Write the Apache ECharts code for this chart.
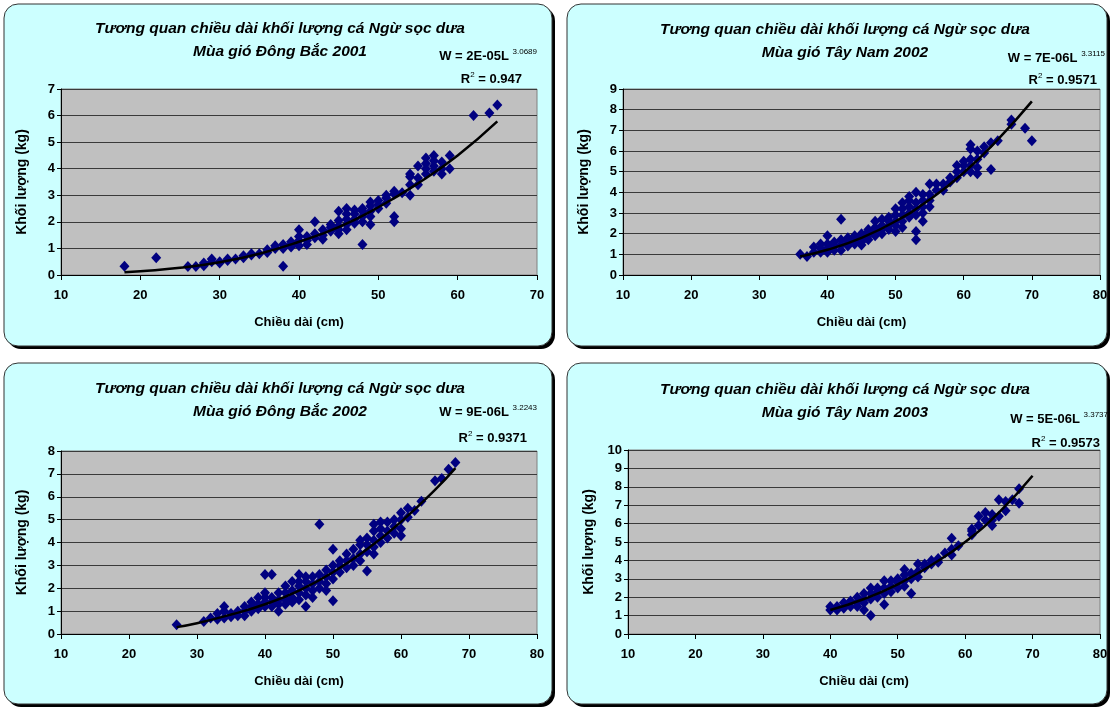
<!DOCTYPE html>
<html>
<head>
<meta charset="utf-8">
<script src="https://cdn.jsdelivr.net/npm/echarts@6/dist/echarts.min.js"></script>
<style>
html,body{margin:0;padding:0;background:#fff;}
#c{width:1111px;height:709px;}
</style>
</head>
<body>
<div id="c"></div>
<script>
// ---------- DATA ----------
const titleLine1 = 'Tương quan chiều dài khối lượng cá Ngừ sọc dưa';
const subTitles = ['Mùa gió Đông Bắc 2001', 'Mùa gió Tây Nam 2002', 'Mùa gió Đông Bắc 2002', 'Mùa gió Tây Nam 2003'];
const eqMain = ['W = 2E-05L', 'W = 7E-06L', 'W = 9E-06L', 'W = 5E-06L'];
const eqExp = ['3.0689', '3.3115', '3.2243', '3.3737'];
const r2Vals = ['0.947', '0.9571', '0.9371', '0.9573'];
const xName = 'Chiều dài (cm)';
const yName = 'Khối lượng (kg)';
const xMin = [10, 10, 10, 10];
const xMax = [70, 80, 80, 80];
const yMax = [7, 9, 8, 10];

const pts2001DB = [[18,0.33],[22,0.65],[26,0.32],[27,0.32],[28,0.35],[28,0.45],[29,0.5],[29,0.6],[30,0.5],[30,0.45],[31,0.55],[31,0.6],[32,0.6],[33,0.65],[33,0.72],[34,0.75],[34,0.8],[35,0.8],[36,0.85],[36,0.95],[37,1.0],[37,1.1],[38,1.0],[38,1.15],[38,0.33],[39,1.05],[39,1.15],[39,1.25],[40,1.1],[40,1.3],[40,1.45],[40,1.7],[41,1.15],[41,1.3],[41,1.45],[42,1.4],[42,1.55],[42,2.0],[43,1.35],[43,1.5],[43,1.7],[44,1.65],[44,1.8],[44,1.9],[45,1.55],[45,1.7],[45,1.85],[45,2.05],[45,2.4],[46,1.7],[46,1.9],[46,2.1],[46,2.3],[46,2.5],[47,1.95],[47,2.1],[47,2.3],[47,2.45],[48,2.0],[48,2.2],[48,2.4],[48,2.5],[48,1.15],[49,1.9],[49,2.2],[49,2.4],[49,2.6],[49,2.75],[50,2.5],[50,2.65],[50,2.8],[51,2.7],[51,2.9],[51,3.0],[52,2.0],[52,2.2],[52,3.05],[52,3.15],[53,3.1],[54,3.0],[54,3.4],[54,3.7],[54,3.8],[55,3.4],[55,3.65],[55,4.1],[56,3.8],[56,4.0],[56,4.2],[56,4.4],[57,3.9],[57,4.1],[57,4.3],[57,4.5],[58,3.8],[58,4.0],[58,4.25],[59,4.0],[59,4.5],[62,6.0],[64,6.1],[65,6.4]];
const curve2001DB = [[18,0.1],[20,0.14],[25,0.27],[30,0.48],[35,0.8],[40,1.25],[45,1.8],[50,2.55],[55,3.45],[60,4.5],[65,5.78]];

const pts2002TN = [[36,1.0],[37,0.9],[38,1.1],[38,1.35],[39,1.1],[39,1.3],[39,1.5],[40,1.1],[40,1.3],[40,1.5],[40,1.9],[41,1.2],[41,1.4],[41,1.6],[42,1.2],[42,1.45],[42,1.7],[42,2.7],[43,1.4],[43,1.6],[43,1.8],[44,1.5],[44,1.7],[44,1.9],[45,1.45],[45,1.6],[45,1.8],[45,2.0],[46,1.7],[46,1.9],[46,2.1],[46,2.2],[47,1.9],[47,2.1],[47,2.3],[47,2.6],[48,2.0],[48,2.2],[48,2.4],[48,2.7],[49,2.2],[49,2.4],[49,2.6],[49,2.8],[50,2.1],[50,2.4],[50,2.6],[50,2.9],[50,3.2],[51,2.3],[51,2.6],[51,2.9],[51,3.2],[51,3.5],[52,2.8],[52,3.0],[52,3.3],[52,3.6],[52,3.8],[53,1.7],[53,2.1],[53,2.9],[53,3.2],[53,3.5],[53,4.0],[54,2.6],[54,3.0],[54,3.3],[54,3.6],[54,3.9],[55,3.3],[55,3.6],[55,3.9],[55,4.4],[56,4.1],[56,4.4],[57,4.1],[57,4.4],[58,4.5],[58,4.7],[59,4.7],[59,5.0],[59,5.3],[60,5.0],[60,5.3],[60,5.5],[61,5.0],[61,5.3],[61,5.6],[61,6.1],[61,6.3],[62,4.9],[62,5.2],[62,5.6],[62,6.0],[63,5.9],[63,6.2],[64,5.1],[64,6.4],[65,6.5],[67,7.3],[67,7.5],[69,7.1],[70,6.5]];
const curve2002TN = [[36,0.9],[40,1.22],[45,1.8],[50,2.6],[55,3.65],[60,4.95],[65,6.55],[70,8.4]];

const pts2002DB = [[27,0.4],[31,0.55],[32,0.7],[33,0.65],[33,0.9],[34,0.7],[34,1.0],[34,1.2],[35,0.75],[35,0.9],[36,0.8],[36,1.0],[37,0.8],[37,1.0],[37,1.2],[38,1.0],[38,1.2],[38,1.4],[39,1.1],[39,1.3],[39,1.6],[40,1.2],[40,1.4],[40,1.6],[40,1.8],[40,2.6],[41,1.2],[41,1.4],[41,1.6],[41,2.6],[42,1.0],[42,1.3],[42,1.5],[42,1.8],[43,1.3],[43,1.5],[43,1.8],[43,2.1],[44,1.4],[44,1.6],[44,1.9],[44,2.3],[45,1.5],[45,1.8],[45,2.1],[45,2.3],[45,2.6],[46,1.2],[46,1.7],[46,2.0],[46,2.3],[46,2.5],[47,1.6],[47,1.9],[47,2.2],[47,2.5],[48,2.0],[48,2.3],[48,2.6],[48,4.8],[49,1.9],[49,2.2],[49,2.5],[49,2.8],[50,1.45],[50,2.4],[50,2.7],[50,3.0],[50,3.7],[51,2.7],[51,3.0],[51,3.2],[52,2.9],[52,3.2],[52,3.5],[53,3.0],[53,3.3],[53,3.7],[54,3.2],[54,3.5],[54,3.9],[54,4.1],[55,2.75],[55,3.6],[55,3.9],[55,4.2],[56,3.5],[56,3.8],[56,4.1],[56,4.5],[56,4.8],[57,4.0],[57,4.3],[57,4.6],[57,4.9],[58,4.2],[58,4.5],[58,4.9],[59,4.4],[59,4.7],[59,5.0],[60,4.3],[60,4.6],[60,5.0],[60,5.3],[61,5.1],[61,5.5],[62,5.4],[63,5.8],[65,6.7],[66,6.8],[67,7.2],[68,7.5]];
const curve2002DB = [[27,0.3],[30,0.47],[35,0.85],[40,1.3],[45,1.9],[50,2.7],[55,3.7],[60,4.9],[65,6.3],[68,7.25]];

const pts2003TN = [[40,1.3],[40,1.5],[41,1.3],[41,1.5],[42,1.4],[42,1.7],[43,1.5],[43,1.8],[44,1.5],[44,1.7],[44,2.0],[45,1.3],[45,1.7],[45,1.9],[45,2.2],[46,1.0],[46,1.9],[46,2.2],[46,2.5],[47,2.0],[47,2.3],[47,2.5],[48,1.6],[48,2.2],[48,2.5],[48,2.9],[49,2.3],[49,2.6],[49,2.9],[50,2.5],[50,2.8],[50,3.0],[51,2.6],[51,2.9],[51,3.2],[51,3.5],[52,2.2],[52,3.0],[52,3.3],[53,3.1],[53,3.4],[53,3.8],[54,3.6],[54,3.8],[55,3.8],[55,4.0],[56,3.9],[56,4.1],[57,4.4],[58,4.3],[58,4.6],[58,5.2],[59,4.8],[61,5.4],[61,5.6],[61,5.7],[62,5.9],[62,6.4],[63,6.2],[63,6.6],[64,5.9],[64,6.2],[64,6.5],[65,6.4],[65,7.3],[66,6.7],[66,7.2],[67,7.3],[68,7.1],[68,7.9]];
const curve2003TN = [[40,1.3],[45,1.9],[50,2.7],[55,3.75],[60,5.0],[65,6.6],[70,8.6]];

const pointSets = [pts2001DB, pts2002TN, pts2002DB, pts2003TN];
const curveSets = [curve2001DB, curve2002TN, curve2002DB, curve2003TN];

// ---------- LAYOUT ----------
const FONT = '"Liberation Sans", Arial, sans-serif';
const panels = [
  {x:4, y:4, w:548, h:342},
  {x:567, y:4, w:540, h:342},
  {x:4, y:363, w:548, h:341},
  {x:567, y:363, w:540, h:341}
];
const grids = [
  {left:61, top:89, width:476, height:186},
  {left:623, top:89, width:477, height:186},
  {left:61, top:451, width:476, height:183},
  {left:628, top:450, width:472, height:184}
];
const titlePos = [{cx:280, top:17}, {cx:845, top:18}, {cx:280, top:377}, {cx:845, top:378}];
const eqPos = [
  {wx:537, wy:55, rx:522, ry:78},
  {wx:1105, wy:57, rx:1097, ry:79},
  {wx:537, wy:411, rx:527, ry:437},
  {wx:1108, wy:418, rx:1100, ry:442}
];

const chart = echarts.init(document.getElementById('c'), null, {renderer:'canvas', width:1111, height:709});

const graphic = [];
panels.forEach(p => {
  graphic.push({type:'rect', z:-20, shape:{x:p.x+3, y:p.y+3, width:p.w, height:p.h, r:14}, style:{fill:'#000'}});
  graphic.push({type:'rect', z:-19, shape:{x:p.x, y:p.y, width:p.w, height:p.h, r:14}, style:{fill:'#CCFFFF', stroke:'#333', lineWidth:1}});
});
const rich = {
  n:{fontFamily:FONT, fontSize:13, fontWeight:'bold', color:'#000', lineHeight:15, verticalAlign:'bottom'},
  s:{fontFamily:FONT, fontSize:8, color:'#000', lineHeight:15, verticalAlign:'top'}
};
eqPos.forEach((e, i) => {
  graphic.push({type:'text', z:10, x:e.wx, y:e.wy, style:{text:'{n|' + eqMain[i] + ' }{s|' + eqExp[i] + '}', rich:rich, align:'right', verticalAlign:'middle'}});
  graphic.push({type:'text', z:10, x:e.rx, y:e.ry, style:{text:'{n|R}{s|2}{n| = ' + r2Vals[i] + '}', rich:rich, align:'right', verticalAlign:'middle'}});
});

const title = titlePos.map((t, i) => ({
  text: titleLine1 + '\n' + subTitles[i],
  left: t.cx, top: t.top, textAlign:'center', padding:0,
  textStyle:{fontFamily:FONT, fontSize:15.5, fontWeight:'bold', fontStyle:'italic', color:'#000', lineHeight:23}
}));

const gridOpt = grids.map(g => Object.assign({show:true, backgroundColor:'#C0C0C0', borderColor:'#808080', borderWidth:1, containLabel:false}, g));

const xAxis = grids.map((g, i) => ({
  type:'value', gridIndex:i, min:xMin[i], max:xMax[i], interval:10,
  name:xName, nameLocation:'middle', nameGap:41,
  nameTextStyle:{fontFamily:FONT, fontSize:13, fontWeight:'bold', color:'#000'},
  axisLine:{show:true, onZero:false, lineStyle:{color:'#000', width:1}},
  axisTick:{show:true, inside:false, length:5, lineStyle:{color:'#000'}},
  axisLabel:{fontFamily:FONT, fontSize:13, fontWeight:'bold', color:'#000', margin:14},
  splitLine:{show:false}
}));
const yAxis = grids.map((g, i) => ({
  type:'value', gridIndex:i, min:0, max:yMax[i], interval:1,
  name:yName, nameLocation:'middle', nameGap:32, nameRotate:90,
  nameTextStyle:{fontFamily:FONT, fontSize:14, fontWeight:'bold', color:'#000'},
  axisLine:{show:true, onZero:false, lineStyle:{color:'#000', width:1}},
  axisTick:{show:true, inside:false, length:4, lineStyle:{color:'#000'}},
  axisLabel:{fontFamily:FONT, fontSize:13, fontWeight:'bold', color:'#000', margin:6},
  splitLine:{show:true, lineStyle:{color:'#3a3a3a', width:1}}
}));

const series = [];
pointSets.forEach((pts, i) => {
  series.push({type:'scatter', xAxisIndex:i, yAxisIndex:i, data:pts, symbol:'diamond', symbolSize:[10,11],
    itemStyle:{color:'#000080', opacity:1}, silent:true, z:3});
  series.push({type:'line', xAxisIndex:i, yAxisIndex:i, data:curveSets[i], smooth:true, showSymbol:false,
    lineStyle:{color:'#000', width:2.5}, silent:true, z:4});
});

chart.setOption({animation:false, title, grid:gridOpt, xAxis, yAxis, series, graphic});
</script>
</body>
</html>
